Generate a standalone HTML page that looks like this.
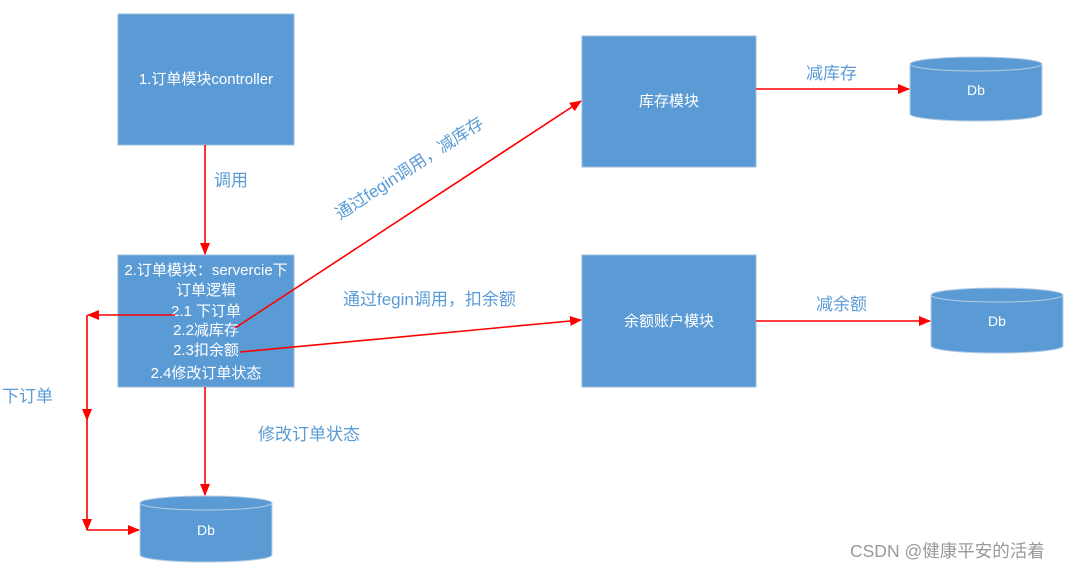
<!DOCTYPE html>
<html><head><meta charset="utf-8"><style>
body{margin:0;background:#fff;width:1078px;height:570px;overflow:hidden;font-family:"Liberation Sans","Noto Sans CJK SC",sans-serif}
</style></head><body>
<svg width="1078" height="570" xmlns="http://www.w3.org/2000/svg" font-family="Liberation Sans, Noto Sans CJK SC, sans-serif">
<defs>
<marker id="a" markerWidth="12" markerHeight="10" refX="11" refY="5" orient="auto" markerUnits="userSpaceOnUse"><path d="M0,0 L12,5 L0,10 z" fill="#f00"/></marker>
</defs>
<g fill="#5b9bd5" stroke="#9dbbd8" stroke-width="1">
<rect x="118" y="14" width="176" height="131"/>
<rect x="118" y="255" width="176" height="132"/>
<rect x="582" y="36" width="174" height="131"/>
<rect x="582" y="255" width="174" height="132"/>
</g>
<g fill="#5b9bd5" stroke="#b5cde5">
<path d="M910,64 v50 a66,7 0 0 0 132,0 v-50"/><ellipse cx="976" cy="64" rx="66" ry="7"/>
<path d="M931,295 v51 a66,7 0 0 0 132,0 v-51"/><ellipse cx="997" cy="295" rx="66" ry="7"/>
<path d="M140,503 v52 a66,7 0 0 0 132,0 v-52"/><ellipse cx="206" cy="503" rx="66" ry="7"/>
</g>
<g fill="#fff" font-size="15" text-anchor="middle">
<text x="206" y="84">1.订单模块controller</text>
<text x="206" y="275">2.订单模块：servercie下</text>
<text x="206" y="295">订单逻辑</text>
<text x="206" y="316">2.1 下订单</text>
<text x="206" y="335">2.2减库存</text>
<text x="206" y="355">2.3扣余额</text>
<text x="206" y="378">2.4修改订单状态</text>
<text x="669" y="106">库存模块</text>
<text x="669" y="326">余额账户模块</text>
<text x="976" y="95" font-size="14">Db</text>
<text x="997" y="326" font-size="14">Db</text>
<text x="206" y="535" font-size="14">Db</text>
</g>
<g stroke="#f00" stroke-width="1.6" fill="none">
<line x1="205" y1="145" x2="205" y2="254" marker-end="url(#a)"/>
<line x1="175" y1="315" x2="88" y2="315" marker-end="url(#a)"/>
<line x1="87" y1="315" x2="87" y2="420" marker-end="url(#a)"/>
<line x1="87" y1="420" x2="87" y2="530" marker-end="url(#a)"/>
<line x1="87" y1="530" x2="139" y2="530" marker-end="url(#a)"/>
<line x1="205" y1="387" x2="205" y2="495" marker-end="url(#a)"/>
<line x1="235" y1="328" x2="581" y2="101" marker-end="url(#a)"/>
<line x1="240" y1="352" x2="581" y2="320" marker-end="url(#a)"/>
<line x1="756" y1="89" x2="909" y2="89" marker-end="url(#a)"/>
<line x1="756" y1="321" x2="930" y2="321" marker-end="url(#a)"/>
</g>
<g fill="#5b9bd5" font-size="17">
<text x="214" y="186">调用</text>
<text x="2" y="402">下订单</text>
<text x="258" y="440">修改订单状态</text>
<text x="343" y="305">通过fegin调用，扣余额</text>
<text x="806" y="79">减库存</text>
<text x="816" y="310">减余额</text>
<text transform="translate(340,220) rotate(-33)">通过fegin调用，减库存</text>
</g>
<text x="850" y="557" font-size="17.5" fill="#999">CSDN @健康平安的活着</text>
</svg>
</body></html>
